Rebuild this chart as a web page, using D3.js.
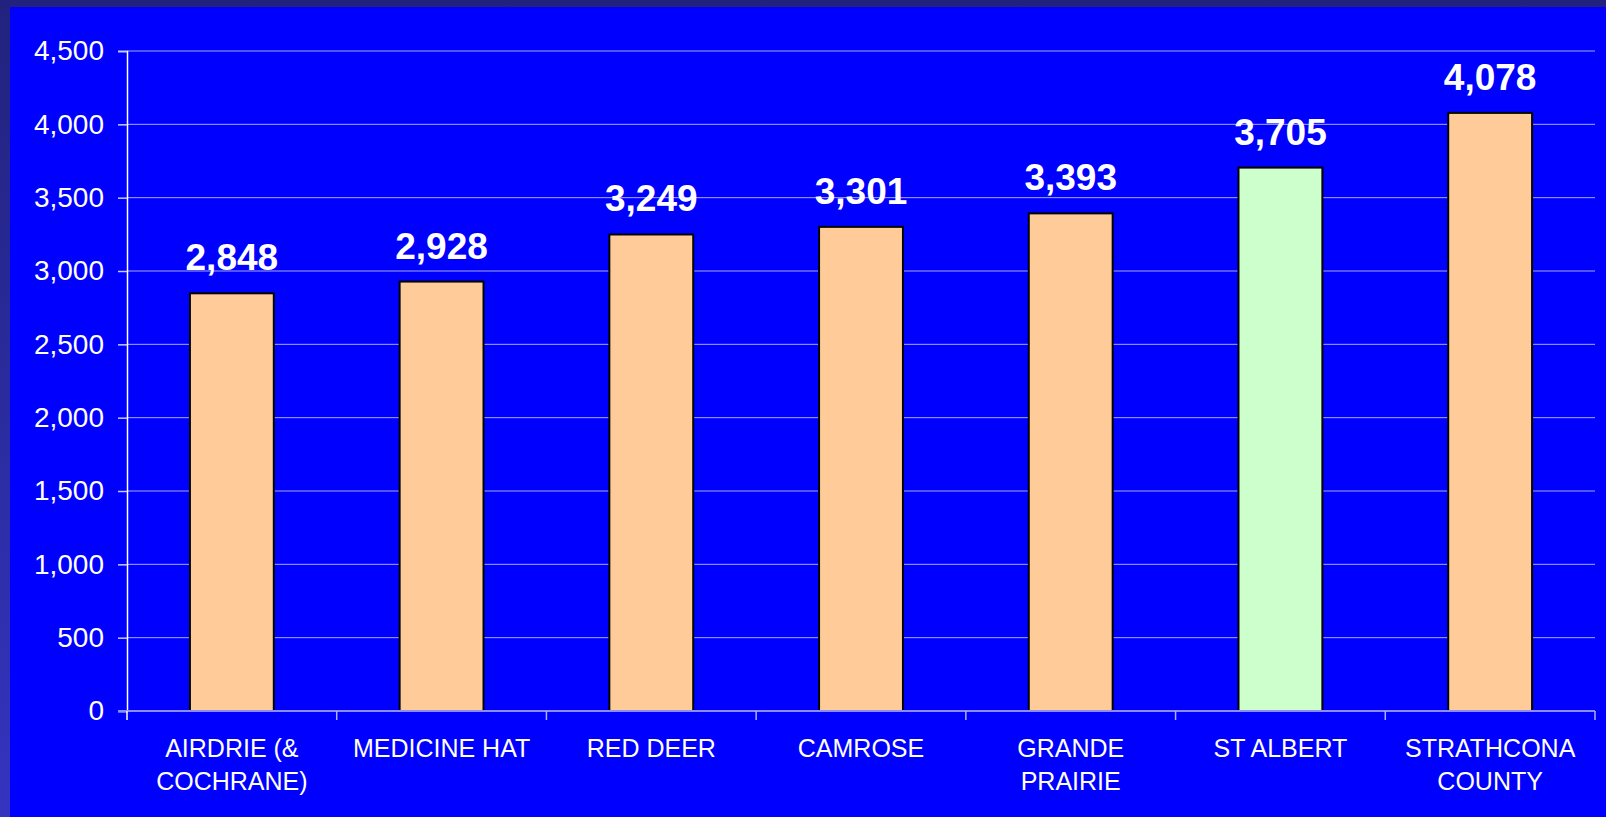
<!DOCTYPE html>
<html>
<head>
<meta charset="utf-8">
<script src="https://d3js.org/d3.v7.min.js"></script>
<style>
  body { margin: 0; background: #0000ff; }
  svg { display: block; font-family: "Liberation Sans", Arial, sans-serif; }
</style>
</head>
<body>
<div id="chart"></div>
<script>
// data
const categories = [
  ["AIRDRIE (&", "COCHRANE)"],
  ["MEDICINE HAT"],
  ["RED DEER"],
  ["CAMROSE"],
  ["GRANDE", "PRAIRIE"],
  ["ST ALBERT"],
  ["STRATHCONA", "COUNTY"]
];
const values = [2848, 2928, 3249, 3301, 3393, 3705, 4078];
const highlight = "ST ALBERT";
const yTicks = [0, 500, 1000, 1500, 2000, 2500, 3000, 3500, 4000, 4500];

const width = 1606;
const height = 817;
const margin = { top: 51, right: 11, bottom: 106, left: 127 };

const svg = d3.select("#chart").append("svg")
    .attr("width", width)
    .attr("height", height);

// frame
const grad = svg.append("defs").append("linearGradient")
    .attr("id", "frame")
    .attr("x1", 0).attr("y1", 0).attr("x2", 0).attr("y2", 1);
grad.append("stop").attr("offset", "0%").attr("stop-color", "#22227e");
grad.append("stop").attr("offset", "100%").attr("stop-color", "#3434c0");

svg.append("rect")
    .attr("width", width).attr("height", height)
    .attr("fill", "url(#frame)");
svg.append("rect")
    .attr("x", 10).attr("y", 7)
    .attr("width", width - 10).attr("height", height - 7)
    .attr("fill", "#0000ff");

const keys = categories.map(c => c.join(" "));

const x = d3.scaleBand()
    .domain(keys)
    .range([margin.left, width - margin.right])
    .paddingInner(0.6)
    .paddingOuter(0.3);

const y = d3.scaleLinear()
    .domain([0, 4500])
    .range([height - margin.bottom, margin.top]);

// grid lines
svg.append("g")
    .selectAll("line")
    .data(yTicks.filter(d => d > 0))
    .enter().append("line")
    .attr("x1", margin.left)
    .attr("x2", width - margin.right)
    .attr("y1", d => y(d))
    .attr("y2", d => y(d))
    .attr("stroke", "#a8a8ff")
    .attr("stroke-width", 1);

// y axis
const yAxis = svg.append("g")
    .attr("transform", `translate(${margin.left},0)`)
    .call(d3.axisLeft(y).tickValues(yTicks).tickFormat(d3.format(",")).tickSize(9).tickPadding(14));
yAxis.select(".domain").attr("stroke", "#ffffff").attr("stroke-width", 1.5);
yAxis.selectAll(".tick line").attr("stroke", "#c8c8ff").attr("stroke-width", 1.5);
yAxis.selectAll(".tick text")
    .attr("fill", "#ffffff")
    .attr("font-size", 28)
    .attr("font-family", "Liberation Sans, Arial, sans-serif");

// bars
svg.append("g")
    .selectAll("rect")
    .data(values)
    .enter().append("rect")
    .attr("x", (d, i) => x(keys[i]))
    .attr("y", d => y(d))
    .attr("width", x.bandwidth())
    .attr("height", d => y(0) - y(d))
    .attr("fill", (d, i) => keys[i] === highlight ? "#ccffcc" : "#ffcc99")
    .attr("stroke", "#000000")
    .attr("stroke-width", 2);

// value labels
svg.append("g")
    .selectAll("text")
    .data(values)
    .enter().append("text")
    .attr("x", (d, i) => x(keys[i]) + x.bandwidth() / 2)
    .attr("y", d => y(d) - 23)
    .attr("text-anchor", "middle")
    .attr("fill", "#ffffff")
    .attr("font-weight", "bold")
    .attr("font-size", 37)
    .text(d => d3.format(",")(d));

// x axis line and category ticks
const x0 = margin.left;
svg.append("line")
    .attr("x1", x0 - 9).attr("x2", width - margin.right)
    .attr("y1", y(0)).attr("y2", y(0))
    .attr("stroke", "#8c8cff")
    .attr("stroke-width", 2);

svg.append("g")
    .selectAll("line")
    .data(d3.range(keys.length + 1))
    .enter().append("line")
    .attr("x1", i => x0 + i * (width - margin.right - x0) / keys.length)
    .attr("x2", i => x0 + i * (width - margin.right - x0) / keys.length)
    .attr("y1", y(0))
    .attr("y2", y(0) + 9)
    .attr("stroke", i => i === 0 ? "#ffffff" : "#b0b0ff")
    .attr("stroke-width", 1.5);

// category labels
const catLabels = svg.append("g")
    .selectAll("text")
    .data(categories)
    .enter().append("text")
    .attr("x", (d, i) => x(keys[i]) + x.bandwidth() / 2)
    .attr("y", y(0) + 46)
    .attr("text-anchor", "middle")
    .attr("fill", "#ffffff")
    .attr("font-size", 25);

catLabels.selectAll("tspan")
    .data(d => d)
    .enter().append("tspan")
    .attr("x", function() { return this.parentNode.getAttribute("x"); })
    .attr("dy", (d, i) => i === 0 ? 0 : 33)
    .text(d => d);
</script>
</body>
</html>
